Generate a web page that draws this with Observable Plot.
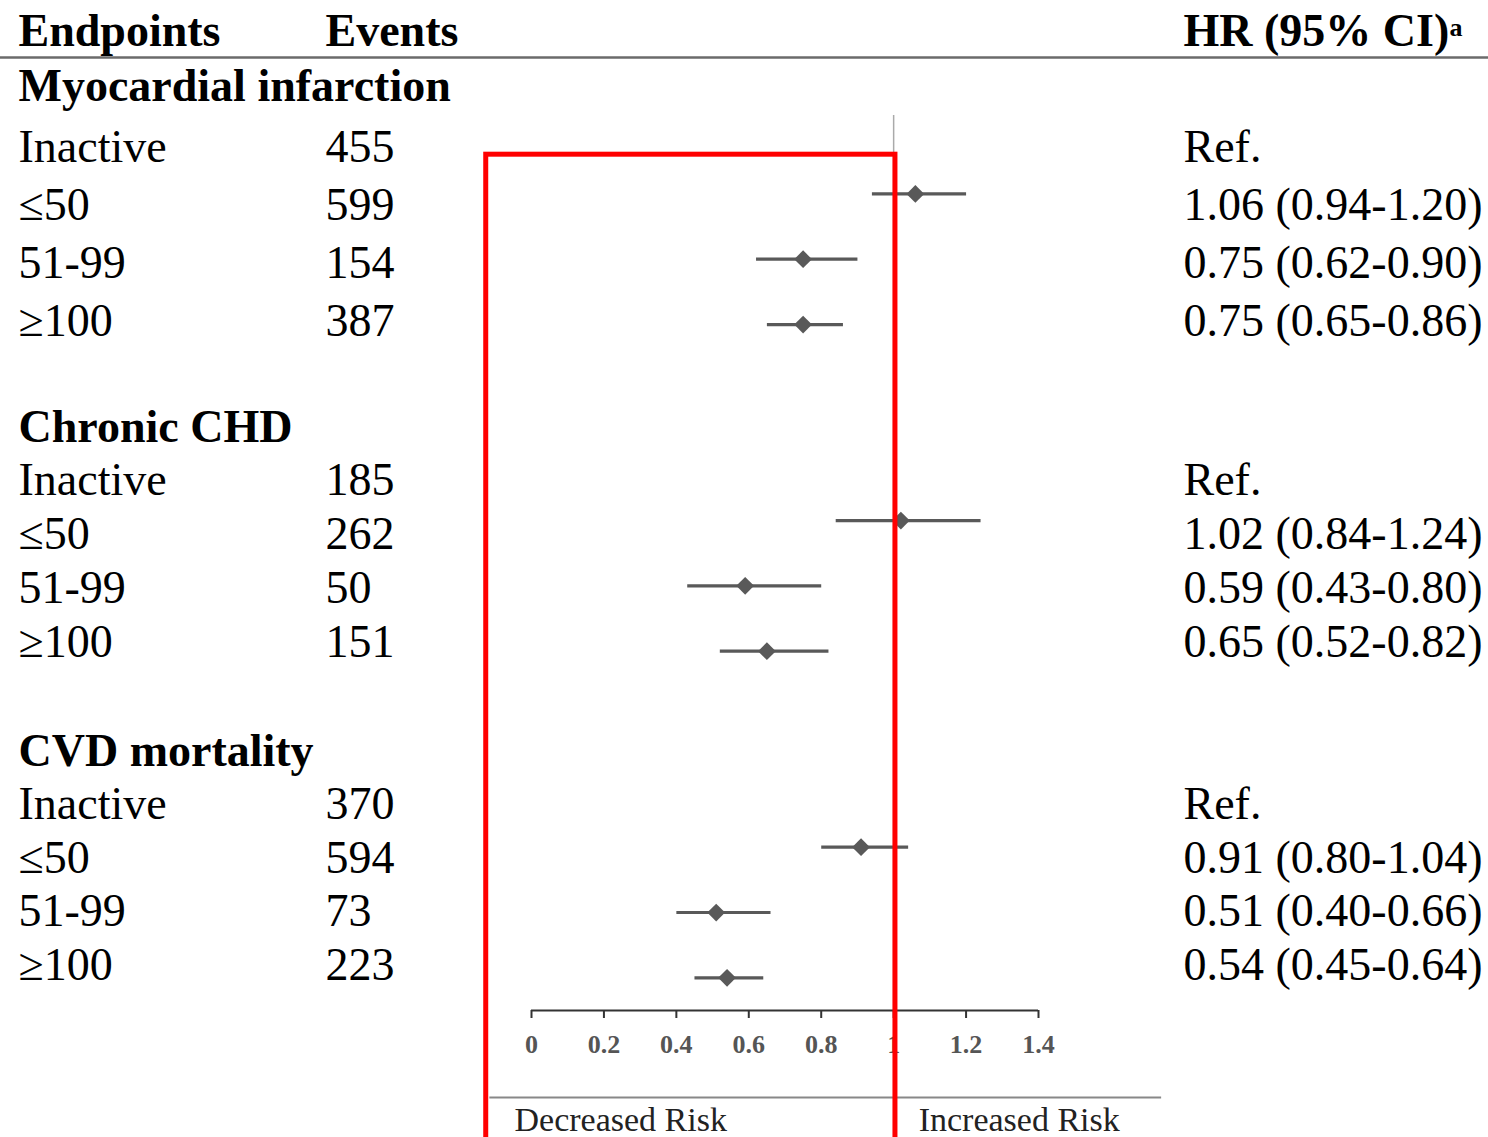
<!DOCTYPE html>
<html><head><meta charset="utf-8">
<script src="https://cdn.jsdelivr.net/npm/d3@7"></script>
<script src="https://cdn.jsdelivr.net/npm/@observablehq/plot@0.6"></script>
<style>
html,body{margin:0;padding:0;background:#fff;}
#chart{position:relative;width:1488px;height:1137px;overflow:hidden;background:#fff;}
#chart svg{position:absolute;left:0;top:0;}
</style></head><body><div id="chart"></div>
<script>
// ---- data ----
const endpoints = ["Myocardial infarction", "Chronic CHD", "CVD mortality"];
const levels = ["Inactive", "≤50", "51-99", "≥100"];
const eventsMI = [455, 599, 154, 387];
const eventsCHD = [185, 262, 50, 151];
const eventsCVD = [370, 594, 73, 223];
const hrMI = [1, 1.06, 0.75, 0.75];
const loMI = [null, 0.94, 0.62, 0.65];
const hiMI = [null, 1.20, 0.90, 0.86];
const hrCHD = [1, 1.02, 0.59, 0.65];
const loCHD = [null, 0.84, 0.43, 0.52];
const hiCHD = [null, 1.24, 0.80, 0.82];
const hrCVD = [1, 0.91, 0.51, 0.54];
const loCVD = [null, 0.80, 0.40, 0.45];
const hiCVD = [null, 1.04, 0.66, 0.64];
const columnHeaders = ["Endpoints", "Events", "HR (95% CI)"];
const headerNote = "a";
const refLabel = "Ref.";
const xTicks = [0, 0.2, 0.4, 0.6, 0.8, 1, 1.2, 1.4];
const riskLabels = ["Decreased Risk", "Increased Risk"];
const nullValue = 1;
// highlight annotation box (in data units)
const highlight = [{x1: -0.125, x2: 1.005, y1: -0.6, y2: 16}];

// ---- build tables ----
const groups = [
  {name: endpoints[0], events: eventsMI, hr: hrMI, lo: loMI, hi: hiMI},
  {name: endpoints[1], events: eventsCHD, hr: hrCHD, lo: loCHD, hi: hiCHD},
  {name: endpoints[2], events: eventsCVD, hr: hrCVD, lo: loCVD, hi: hiCVD}
];
const f2 = d3.format(".2f");
const textRows = [];
columnHeaders.forEach((t, i) => textRows.push({col: i, row: 0, text: t, bold: true}));
groups.forEach((g, s) => {
  const base = 1 + 6 * s;
  textRows.push({col: 0, row: base, text: g.name, bold: true});
  levels.forEach((lv, j) => {
    const r = base + 1 + j;
    textRows.push({col: 0, row: r, text: lv, bold: false});
    textRows.push({col: 1, row: r, text: String(g.events[j]), bold: false});
    textRows.push({col: 2, row: r, bold: false,
      text: g.lo[j] == null ? refLabel : `${f2(g.hr[j])} (${f2(g.lo[j])}-${f2(g.hi[j])})`});
  });
});
const forest = [];
groups.forEach((g, s) => levels.forEach((lv, j) => {
  if (g.lo[j] != null) forest.push({row: 5 * s + j - 1, hr: g.hr[j], lo: g.lo[j], hi: g.hi[j]});
}));

const serif = "'Liberation Serif', 'Times New Roman', serif";

const tablePlot = Plot.plot({
  width: 1488, height: 1137, margin: 0,
  style: {background: "transparent", fontFamily: serif},
  x: {type: "linear", domain: [0, 1, 2], range: [18, 325, 1183], axis: null},
  y: {type: "linear", domain: [0, 1, 2, 5, 7, 11, 13, 17], range: [45, 100, 161, 335, 441, 656, 765, 979], axis: null},
  marks: [
    Plot.ruleY([0], {dy: 12, stroke: "#6b6b6b", strokeWidth: 2.5}),
    Plot.text(textRows.filter(d => !d.bold), {x: "col", y: "row", text: "text", textAnchor: "start", lineAnchor: "bottom", fontSize: 46, fill: "#000"}),
    Plot.text(textRows.filter(d => d.bold), {x: "col", y: "row", text: "text", textAnchor: "start", lineAnchor: "bottom", fontSize: 46, fontWeight: "bold", fill: "#000"}),
    Plot.text([headerNote], {x: () => 2, y: () => 0, text: d => d, dx: 266, dy: -10, textAnchor: "start", lineAnchor: "bottom", fontSize: 26, fontWeight: "bold", fill: "#000"})
  ]
});

const forestPlot = Plot.plot({
  width: 1488, height: 1137,
  marginLeft: 531, marginRight: 450, marginTop: 115, marginBottom: 127,
  style: {background: "transparent", fontFamily: serif},
  x: {type: "linear", domain: [0, 1.4], axis: null},
  y: {type: "linear", domain: [-1.2, 12.5], reverse: true, axis: null},
  marks: [
    Plot.ruleX([nullValue], {stroke: "#aaa", strokeWidth: 1.5}),
    Plot.ruleY([12.5], {stroke: "#333", strokeWidth: 2}),
    Plot.axisX(xTicks, {anchor: "bottom", tickSize: 8, tickPadding: 16, stroke: "#333", strokeWidth: 2,
      fill: "#555", fontSize: 26, fontWeight: "bold", fontFamily: serif, tickFormat: d3.format("~g"), label: null}),
    Plot.link(forest, {x1: "lo", x2: "hi", y1: "row", y2: "row", stroke: "#595959", strokeWidth: 3.2}),
    Plot.dot(forest, {x: "hr", y: "row", symbol: "diamond2", r: 8, fill: "#595959", stroke: null}),
    Plot.ruleY([12.5], {x1: -0.115, x2: 1.74, dy: 87, stroke: "#888", strokeWidth: 2}),
    Plot.text([riskLabels[0]], {x: () => 0, y: () => 12.5, text: d => d, dx: -17, dy: 120, textAnchor: "start", lineAnchor: "bottom", fontSize: 34, fill: "#222"}),
    Plot.text([riskLabels[1]], {x: () => nullValue, y: () => 12.5, text: d => d, dx: 25, dy: 120, textAnchor: "start", lineAnchor: "bottom", fontSize: 34, fill: "#222"}),
    Plot.rect(highlight, {x1: "x1", x2: "x2", y1: "y1", y2: "y2", fill: "none", stroke: "#ff0000", strokeWidth: 5})
  ]
});

const chart = document.getElementById("chart");
chart.appendChild(tablePlot);
chart.appendChild(forestPlot);
</script>
</body></html>
